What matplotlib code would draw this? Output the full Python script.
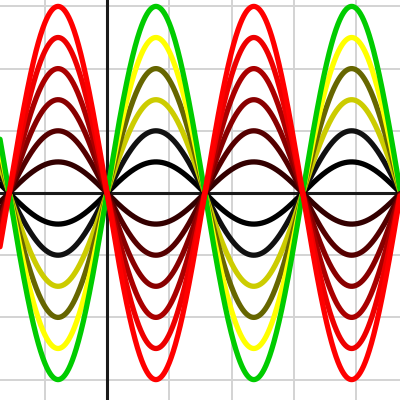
import numpy as np
import matplotlib
matplotlib.use("Agg")
from matplotlib import pyplot as plt

# amplitudes of the two families: y = a*sin(2x) and y = -a*sin(2x)
amps = [0.5, 1.0, 1.5, 2.0, 2.5, 3.0]
pos_colors = ["#000000", "#111111", "#cccc00", "#666600", "#ffff00", "#00cc00"]
neg_colors = ["#330000", "#550000", "#880000", "#aa0000", "#ee0000", "#ff0000"]

x_range = (-1.717, 4.703)
y_range = (-3.328, 3.103)
grid_x = [-1, 1, 2, 3, 4]
grid_y = [-3, -2, -1, 1, 2, 3]

fig = plt.figure(figsize=(4, 4), dpi=100)
ax = fig.add_axes([0, 0, 1, 1])
ax.set_xlim(*x_range)
ax.set_ylim(*y_range)
ax.axis("off")

for gx in grid_x:
    ax.axvline(gx, color="#d3d3d3", lw=1.4, zorder=0)
for gy in grid_y:
    ax.axhline(gy, color="#d3d3d3", lw=1.4, zorder=0)
ax.axhline(0, color="#1a1a1a", lw=2.2, zorder=1)
ax.axvline(0, color="#1a1a1a", lw=2.2, zorder=1)

x = np.linspace(x_range[0], x_range[1], 2000)
for a, c in zip(amps, pos_colors):
    ax.plot(x, a * np.sin(2 * x), color=c, lw=3.8, zorder=2, solid_capstyle="round")
for a, c in zip(amps, neg_colors):
    ax.plot(x, -a * np.sin(2 * x), color=c, lw=3.8, zorder=3, solid_capstyle="round")

fig.savefig("out.png", dpi=100)
